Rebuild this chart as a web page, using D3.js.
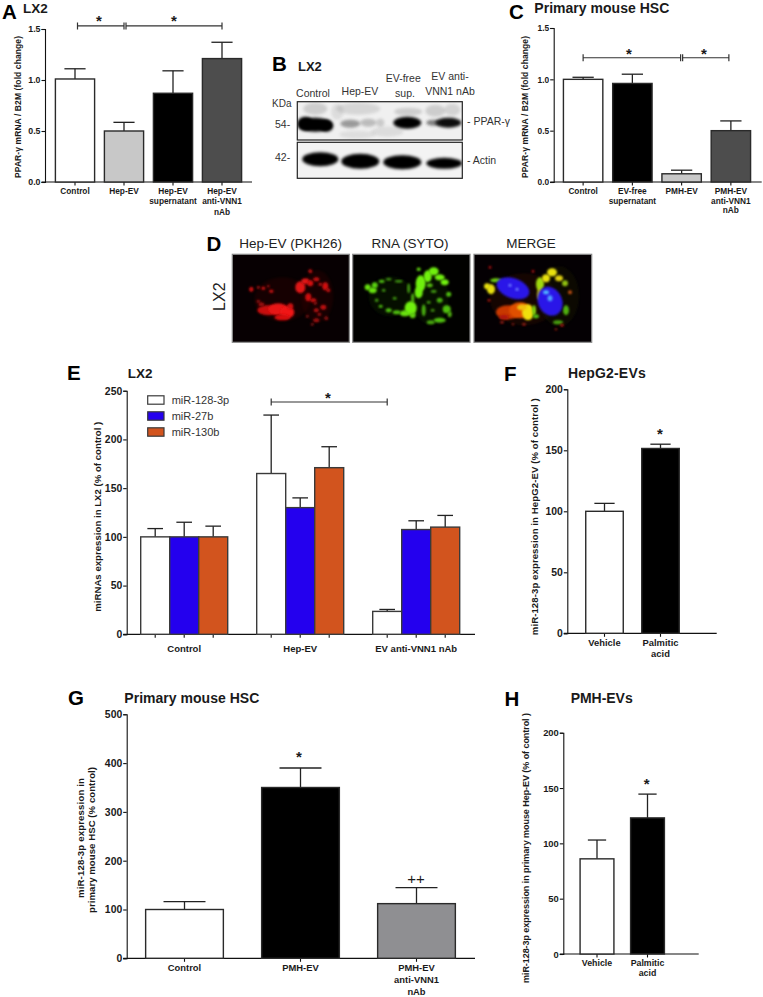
<!DOCTYPE html>
<html>
<head>
<meta charset="utf-8">
<script src="https://cdn.jsdelivr.net/npm/d3@7"></script>
<style>
  body { margin: 0; background: #fff; }
  text { font-family: "Liberation Sans", Arial, sans-serif; fill: #1a1a1a; }
</style>
</head>
<body>
<div id="chart"></div>
<script>
// Panel A
const catsA = ["Control", "Hep-EV", "Hep-EV\nsupernatant", "Hep-EV\nanti-VNN1\nnAb"];
const meanA = [1.01, 0.5, 0.87, 1.21];
const topA = [1.11, 0.585, 1.09, 1.37];
const fillA = ["#fff", "#c8c8c8", "#000", "#4d4d4d"];
// Panel C
const catsC = ["Control", "EV-free\nsupernatant", "PMH-EV", "PMH-EV\nanti-VNN1\nnAb"];
const meanC = [1.0, 0.96, 0.08, 0.5];
const topC = [1.02, 1.05, 0.115, 0.595];
const fillC = ["#fff", "#000", "#c8c8c8", "#4d4d4d"];
const ticksFold = [0, 0.5, 1.0, 1.5];
// Panel E
const catsE = ["Control", "Hep-EV", "EV anti-VNN1 nAb"];
const seriesE = ["miR-128-3p", "miR-27b", "miR-130b"];
const fillE = ["#fff", "#2400ee", "#d2541e"];
const meanE = [[100, 100, 100], [165, 130, 171], [23.5, 107.5, 110]];
const topE = [[108.5, 115, 111], [225, 140, 192.5], [25.5, 116.5, 122]];
const ticksE = [0, 50, 100, 150, 200, 250];
// Panel F
const catsF = ["Vehicle", "Palmitic\nacid"];
const meanF = [100, 151.5];
const topF = [106.5, 155];
// Panel G
const catsG = ["Control", "PMH-EV", "PMH-EV\nanti-VNN1\nnAb"];
const meanG = [100, 350, 112];
const topG = [116, 390, 145];
const fillG = ["#fff", "#000", "#8f8f92"];
const ticksG = [0, 100, 200, 300, 400, 500];
// Panel H
const catsH = ["Vehicle", "Palmitic\nacid"];
const meanH = [86, 123];
const topH = [103, 144.5];
const ticksPct = [0, 50, 100, 150, 200];

// Picture panels, [x, y, rx, ry, colour, opacity, rotation] in local pixels
const blotTop = [
  [8, 22, 8, 7, "#000", 1], [18, 23, 16, 7, "#000", 1], [29, 24, 7, 6, "#000", 1],
  [53, 22, 10, 4, "#333", .45], [71, 21, 8, 4, "#444", .3], [83, 21, 4, 4, "#444", .22],
  [110, 21, 14, 6, "#000", 1], [151, 21, 13, 5, "#000", .95], [136, 21, 7, 3, "#222", .55],
  [18, 7, 12, 6, "#555", .22], [61, 7, 22, 6, "#555", .16], [138, 9, 10, 6, "#555", .22],
  [111, 10, 14, 4, "#555", .22], [90, 30, 16, 5, "#666", .14], [155, 8, 8, 6, "#555", .18],
  [60, 33, 18, 4, "#666", .12], [40, 10, 6, 8, "#666", .14]
];
const blotBottom = [
  [23, 17, 18, 7, "#000", 1], [63, 19, 19, 7.5, "#000", 1],
  [105, 20, 19, 7, "#000", 1], [147, 21, 18, 5.5, "#000", 1]
];
const redSpots = [
  [50, 45, 28, 22, "#300004", .35], [85, 42, 16, 26, "#300004", .35],
  [36, 56, 11, 5, "#c80d0d", 1], [46, 55, 10, 6, "#e81212", 1], [55, 58, 7, 6, "#f01414", 1],
  [50, 63, 8, 3, "#d81010", 1], [58, 52, 3, 3, "#d01010", 1], [29, 50, 3, 2, "#a00c0c", 1],
  [68, 33, 5, 6, "#e01414", 1], [73, 27, 4, 3, "#e01414", 1], [78, 29, 3, 3, "#d81010", 1],
  [76, 43, 3, 4, "#d01010", 1], [81, 46, 3, 2, "#c81010", 1], [93, 32, 3, 4, "#d01010", 1],
  [96, 36, 2, 2, "#c01010", 1], [78, 17, 2, 2, "#c01010", 1], [84, 25, 3, 2, "#c81010", 1],
  [88, 30, 2, 1.5, "#c01010", 1], [19, 35, 2.2, 2.5, "#d01010", 1], [26, 33, 1.5, 1.5, "#a81010", 1],
  [31, 34, 2, 1.7, "#c81010", 1], [36, 32, 1.3, 1.3, "#a81010", 1], [39, 37, 2.2, 1.7, "#c81010", 1],
  [26, 47, 2, 1.5, "#901010", 1], [91, 53, 3, 2.5, "#c01010", 1], [84, 56, 2.5, 2, "#b81010", 1],
  [87, 60, 2, 1.5, "#a01010", 1], [84, 66, 3, 2, "#a01010", 1], [94, 64, 2, 2, "#901010", 1],
  [83, 49, 1.7, 1.7, "#901010", 1], [75, 62, 1.5, 1.5, "#801010", 1], [80, 70, 1.5, 1.5, "#801010", 1]
];
const greenSpots = [
  [38, 42, 22, 20, "#0a2400", .4], [78, 44, 18, 26, "#0a2400", .4],
  [15, 33, 3, 3, "#66e010", 1], [20, 36, 4, 3, "#66e010", 1], [22, 31, 3, 3, "#58d010", 1],
  [29, 27, 3, 1.6, "#50c010", 1], [36, 25, 3, 1.3, "#409810", 1], [46, 27, 4, 1.2, "#409810", 1],
  [56, 34, 1.5, 5, "#409810", 1], [60, 44, 1.6, 5, "#50b010", 1], [58, 54, 6, 7, "#70f010", 1],
  [52, 59, 5, 3, "#68e010", 1], [60, 61, 3, 3, "#60d010", 1], [44, 58, 4, 2, "#50c010", 1],
  [36, 56, 3, 2, "#50c010", 1], [28, 52, 2, 1.5, "#50c010", 1], [68, 29, 5, 8, "#70f010", 1],
  [66, 38, 4, 6, "#70f010", 1], [75, 22, 4, 6, "#70f010", 1], [81, 17, 5, 4, "#70f010", 1],
  [87, 23, 5, 3, "#70f010", 1], [92, 28, 4, 3, "#70f010", 1], [77, 31, 3, 2, "#58c010", 1],
  [96, 40, 2.5, 2.5, "#50c010", 1], [94, 55, 4, 4, "#50c010", 1], [97, 60, 2, 3, "#50b010", 1],
  [87, 66, 6, 2.5, "#50c010", 1], [78, 68, 4, 2, "#48a810", 1], [71, 56, 2, 6, "#48b010", 1],
  [42, 44, 2, 1.5, "#409810", 1], [24, 46, 1.8, 1.8, "#409810", 1], [31, 36, 1.8, 1.5, "#409810", 1],
  [81, 37, 3, 1.6, "#409810", 1], [87, 46, 3, 2.5, "#48b010", 1], [76, 48, 2, 1.5, "#409810", 1],
  [66, 15, 2, 1.7, "#60d810", 1], [80, 56, 2, 1.5, "#409010", 1]
];
const mergeSpots = [
  [50, 45, 34, 26, "#2a0c00", .45], [85, 42, 20, 30, "#141800", .45],
  [34, 58, 12, 7, "#c83800", 1], [46, 56, 11, 8, "#e05000", 1], [30, 63, 5, 2.5, "#b01808", 1],
  [54, 58, 6, 8, "#f0e010", 1], [48, 53, 5, 3, "#f0c010", 1], [60, 56, 2, 5, "#80d010", 1],
  [13, 32, 3, 3, "#e8e010", 1], [17, 35, 4, 5, "#e8e010", 1], [22, 26, 6, 2, "#70d010", 1],
  [66, 30, 4, 7, "#a0d810", 1], [66, 40, 3, 6, "#c8c810", 1], [72, 24, 4, 4, "#e8e010", 1],
  [78, 18, 5, 4, "#e8e010", 1], [85, 24, 4, 3, "#e0d010", 1], [91, 29, 3, 3, "#90c010", 1],
  [62, 62, 3, 2, "#50c010", 1], [92, 56, 3, 5, "#50b010", 1], [84, 68, 5, 2, "#48a010", 1],
  [16, 13, 1.5, 1.5, "#a01010", 1], [59, 17, 1.5, 1.5, "#a01010", 1], [88, 71, 2, 1.5, "#a01010", 1],
  [96, 38, 2, 2, "#c05010", 1], [28, 68, 2, 1.5, "#902010", 1], [50, 70, 2, 1.5, "#902010", 1],
  [15, 46, 1.5, 1.5, "#a01808", 1], [39, 70, 1.3, 1.3, "#801808", 1], [82, 75, 1.3, 1.3, "#801808", 1]
];
const mergeNuclei = [
  [39, 34, 17, 10, "#2a18e8", 1, 20], [76, 47, 12, 15, "#2a18e8", 1, -25],
  [72, 38, 3, 2, "#50b8ff", 1], [76, 44, 2.5, 3, "#50a0ff", 1], [36, 31, 1.5, 1.5, "#7080ff", 1], [43, 35, 1.5, 1.5, "#7080ff", 1]
];

const svg = d3.select("#chart").append("svg").attr("width", 763).attr("height", 997);
const defs = svg.append("defs");
[["soft", 1.8], ["softer", 0.8]].forEach(([id, s]) => {
  defs.append("filter").attr("id", id)
    .attr("x", "-40%").attr("y", "-40%").attr("width", "180%").attr("height", "180%")
    .append("feGaussianBlur").attr("stdDeviation", s);
});

function label(str, x, y, size, opts = {}) {
  const t = svg.append("text")
    .attr("x", x).attr("y", y)
    .attr("font-size", size)
    .attr("font-weight", opts.bold ? "bold" : "normal")
    .attr("text-anchor", opts.anchor || "start")
    .text(str);
  if (opts.len) t.attr("textLength", opts.len).attr("lengthAdjust", "spacing");
  if (opts.rotate) t.attr("transform", `rotate(-90 ${x} ${y})`);
  if (opts.fill) t.style("fill", opts.fill);
  return t;
}

// y axis, x axis line and tick labels shared by every bar panel
function axes(g, y, yTicks, fmt, xLeft, xRight, cfg) {
  const axY = d3.axisLeft(y).tickValues(yTicks).tickFormat(fmt).tickSize(3.5).tickPadding(1);
  const gy = g.append("g").attr("transform", `translate(${xLeft},0)`).call(axY);
  gy.selectAll("text").attr("font-size", cfg.yFont).attr("font-weight", "bold")
    .attr("font-family", "Liberation Sans").attr("fill", "#1a1a1a");
  gy.selectAll("line,path").attr("stroke", "#111").attr("stroke-width", 1.1);
  g.append("line")
    .attr("x1", xLeft - 3.5).attr("x2", xRight)
    .attr("y1", y(0)).attr("y2", y(0))
    .attr("stroke", "#111").attr("stroke-width", 1.2);
}

function tickLabels(g, cats, centers, yBase, size, lineH) {
  cats.forEach((c, i) => {
    c.split("\n").forEach((line, j) => {
      g.append("text")
        .attr("x", centers[i]).attr("y", yBase + j * lineH)
        .attr("text-anchor", "middle").attr("font-size", size).attr("font-weight", "bold")
        .text(line);
    });
  });
}

function simpleBars(cfg) {
  const g = svg.append("g");
  const y = d3.scaleLinear().domain([0, cfg.max]).range([cfg.y0, cfg.y1]);
  const x = d3.scaleBand().domain(cfg.cats).range(cfg.range).paddingInner(cfg.pad).paddingOuter(cfg.pad / 2);
  const bw = x.bandwidth();
  axes(g, y, cfg.ticks, cfg.fmt, cfg.xLeft, cfg.xRight, cfg);

  const axX = d3.axisBottom(x).tickSize(3.5).tickFormat("");
  const gx = g.append("g").attr("transform", `translate(0,${cfg.y0})`).call(axX);
  gx.select(".domain").remove();
  gx.selectAll("line").attr("stroke", "#111").attr("stroke-width", 1.1);

  // error bars first, the bar covers the foot of the stem
  g.selectAll(".stem").data(cfg.cats).enter().append("line")
    .attr("x1", d => x(d) + bw / 2).attr("x2", d => x(d) + bw / 2)
    .attr("y1", (d, i) => y(cfg.mean[i])).attr("y2", (d, i) => y(cfg.top[i]))
    .attr("stroke", "#222").attr("stroke-width", 1.3);
  g.selectAll(".cap").data(cfg.cats).enter().append("line")
    .attr("x1", d => x(d) + bw * 0.23).attr("x2", d => x(d) + bw * 0.77)
    .attr("y1", (d, i) => y(cfg.top[i])).attr("y2", (d, i) => y(cfg.top[i]))
    .attr("stroke", "#222").attr("stroke-width", 1.3);
  g.selectAll(".bar").data(cfg.cats).enter().append("rect")
    .attr("x", d => x(d)).attr("width", bw)
    .attr("y", (d, i) => y(cfg.mean[i]))
    .attr("height", (d, i) => y(0) - y(cfg.mean[i]))
    .attr("fill", (d, i) => cfg.fill[i])
    .attr("stroke", "#2a2a2a").attr("stroke-width", 1.4);

  tickLabels(g, cfg.cats, cfg.cats.map(d => x(d) + bw / 2), cfg.y0 + cfg.labelDy, cfg.xFont, cfg.lineH);
  return { x, y, bw };
}

function bracket(y, xa, xb, value) {
  const py = y(value);
  const p = d3.path();
  p.moveTo(xa, py - 3.5); p.lineTo(xa, py + 3.5);
  p.moveTo(xa, py); p.lineTo(xb, py);
  p.moveTo(xb, py - 3.5); p.lineTo(xb, py + 3.5);
  svg.append("path").attr("d", p.toString()).attr("fill", "none")
    .attr("stroke", "#333").attr("stroke-width", 1.2);
}

function star(x, y) {
  label("*", x, y, 15, { bold: true, anchor: "middle" });
}

// ---- A
const fold = d3.format(".1f");
const A = simpleBars({
  cats: catsA, mean: meanA, top: topA, fill: fillA, max: 1.5, ticks: ticksFold, fmt: fold,
  y0: 182, y1: 29, range: [50.5, 246.5], pad: 0.2, xLeft: 45, xRight: 252,
  yFont: 8.8, xFont: 8.3, labelDy: 12, lineH: 10.3
});
const cA = c => A.x(c) + A.bw / 2;
bracket(A.y, cA(catsA[0]) + 2.5, cA(catsA[1]), 1.53);
bracket(A.y, cA(catsA[1]) + 2, cA(catsA[3]), 1.53);
star(99, 26); star(174, 26);

// ---- C
const C = simpleBars({
  cats: catsC, mean: meanC, top: topC, fill: fillC, max: 1.5, ticks: ticksFold, fmt: fold,
  y0: 182, y1: 28, range: [558.5, 755.5], pad: 0.2, xLeft: 553.7, xRight: 761.7,
  yFont: 8.4, xFont: 8.3, labelDy: 12, lineH: 9.6
});
const cC = c => C.x(c) + C.bw / 2;
bracket(C.y, cC(catsC[0]), cC(catsC[2]) - 1, 1.21);
bracket(C.y, cC(catsC[2]) + 1, cC(catsC[3]) - 2, 1.21);
star(629, 59); star(704, 59);

// ---- E, grouped bars
const yE = d3.scaleLinear().domain([0, 250]).range([634.3, 390.7]);
const x0E = d3.scaleBand().domain(catsE).range([126.2, 474.2]).paddingInner(0.25).paddingOuter(0.125);
const x1E = d3.scaleBand().domain(seriesE).range([0, x0E.bandwidth()]);
const gE = svg.append("g");
axes(gE, yE, ticksE, d3.format("d"), 126.7, 475, { yFont: 10.4 });
catsE.forEach((cat, ci) => {
  const gc = gE.append("g").attr("transform", `translate(${x0E(cat)},0)`);
  const bw = x1E.bandwidth();
  const axX = d3.axisBottom(x1E).tickSize(3.5).tickFormat("");
  const gx = gc.append("g").attr("transform", `translate(0,${yE(0)})`).call(axX);
  gx.select(".domain").remove();
  gx.selectAll("line").attr("stroke", "#111").attr("stroke-width", 1.1);
  gc.selectAll(".stem").data(seriesE).enter().append("line")
    .attr("x1", d => x1E(d) + bw / 2).attr("x2", d => x1E(d) + bw / 2)
    .attr("y1", (d, i) => yE(meanE[ci][i])).attr("y2", (d, i) => yE(topE[ci][i]))
    .attr("stroke", "#222").attr("stroke-width", 1.3);
  gc.selectAll(".cap").data(seriesE).enter().append("line")
    .attr("x1", d => x1E(d) + bw * 0.23).attr("x2", d => x1E(d) + bw * 0.77)
    .attr("y1", (d, i) => yE(topE[ci][i])).attr("y2", (d, i) => yE(topE[ci][i]))
    .attr("stroke", "#222").attr("stroke-width", 1.3);
  gc.selectAll(".bar").data(seriesE).enter().append("rect")
    .attr("x", d => x1E(d)).attr("width", bw)
    .attr("y", (d, i) => yE(meanE[ci][i]))
    .attr("height", (d, i) => yE(0) - yE(meanE[ci][i]))
    .attr("fill", (d, i) => fillE[i])
    .attr("stroke", "#3a3a3a").attr("stroke-width", 1.4);
});
tickLabels(gE, catsE, catsE.map(c => x0E(c) + x0E.bandwidth() / 2), 652, 9.5, 11);
const bE = (ci, si) => x0E(catsE[ci]) + x1E(seriesE[si]) + x1E.bandwidth() / 2;
bracket(yE, bE(1, 0), bE(2, 0), 238.4);
star(328, 403);

// legend
const legendY = d3.scalePoint().domain(seriesE).range([400, 432]);
seriesE.forEach((s, i) => {
  svg.append("rect").attr("x", 147.7).attr("y", legendY(s) - 4.2).attr("width", 16.3).attr("height", 8.4)
    .attr("fill", fillE[i]).attr("stroke", "#3a3a3a").attr("stroke-width", 1.2);
  label(s, 171.7, legendY(s) + 4, 11, { fill: "#333" });
});

// ---- F
const pct = d3.format("d");
simpleBars({
  cats: catsF, mean: meanF, top: topF, fill: ["#fff", "#000"], max: 200, ticks: ticksPct, fmt: pct,
  y0: 633.3, y1: 389.3, range: [576.5, 688.5], pad: 0.33, xLeft: 567.3, xRight: 716.7,
  yFont: 10.4, xFont: 9.4, labelDy: 13, lineH: 10.7
});
star(660, 439);

// ---- G
simpleBars({
  cats: catsG, mean: meanG, top: topG, fill: fillG, max: 500, ticks: ticksG, fmt: pct,
  y0: 958.3, y1: 714.3, range: [126.5, 474.5], pad: 0.33, xLeft: 126.7, xRight: 475,
  yFont: 10.4, xFont: 9.4, labelDy: 13, lineH: 12
});
star(299, 762);
label("++", 416, 884, 15, { anchor: "middle" });

// ---- H
simpleBars({
  cats: catsH, mean: meanH, top: topH, fill: ["#fff", "#000"], max: 200, ticks: ticksPct, fmt: pct,
  y0: 954, y1: 732.7, range: [571.75, 672.75], pad: 0.33, xLeft: 563.3, xRight: 698.7,
  yFont: 9.4, xFont: 8.8, labelDy: 11.7, lineH: 10
});
star(646.7, 789);

// ---- axis titles
label("PPAR-γ mRNA / B2M (fold change)", 21, 107, 8.5, { bold: true, anchor: "middle", rotate: true, len: 142 });
label("PPAR-γ mRNA / B2M (fold change)", 528, 107, 8.5, { bold: true, anchor: "middle", rotate: true, len: 142 });
label("miRNAs expression in LX2 (% of control )", 101.5, 516.7, 9.6, { bold: true, anchor: "middle", rotate: true, len: 190 });
label("miR-128-3p expression in HepG2-EV (% of control )", 538.5, 516.7, 9.6, { bold: true, anchor: "middle", rotate: true, len: 237 });
label("miR-128-3p expression in", 83.5, 838, 9.6, { bold: true, anchor: "middle", rotate: true, len: 120 });
label("primary mouse HSC (% control)", 95, 840, 9.6, { bold: true, anchor: "middle", rotate: true, len: 146 });
label("miR-128-3p expression in primary mouse Hep-EV (% of control )", 529, 848, 9, { bold: true, anchor: "middle", rotate: true, len: 270 });

// ---- panel letters and titles
[["A", 2, 19], ["B", 272, 71], ["C", 509, 19], ["D", 206.5, 251], ["E", 67, 380], ["F", 504, 381], ["G", 68, 705], ["H", 504.5, 706]]
  .forEach(([s, x, y]) => label(s, x, y, 20.5, { bold: true, fill: "#000" }));
label("LX2", 23, 13, 13.5, { bold: true });
label("LX2", 298, 71, 13, { bold: true });
label("Primary mouse HSC", 534.3, 13, 14, { bold: true, len: 135 });
label("LX2", 127.7, 377.7, 13.5, { bold: true });
label("HepG2-EVs", 568, 377.7, 14, { bold: true, len: 77.7 });
label("Primary mouse HSC", 124.3, 702.7, 14, { bold: true, len: 135 });
label("PMH-EVs", 570.7, 702.7, 14, { bold: true, len: 62 });

// ---- B, western blot
function spots(parent, list, filter) {
  parent.selectAll(".spot").data(list).enter().append("ellipse")
    .attr("cx", d => d[0]).attr("cy", d => d[1])
    .attr("rx", d => d[2]).attr("ry", d => d[3])
    .attr("fill", d => d[4]).attr("opacity", d => d[5])
    .attr("transform", d => d[6] ? `rotate(${d[6]} ${d[0]} ${d[1]})` : null)
    .attr("filter", `url(#${filter})`);
}
function picture(id, x, y, w, h, bg, border, list, filter, extra) {
  defs.append("clipPath").attr("id", id).append("rect").attr("width", w).attr("height", h);
  const g = svg.append("g").attr("transform", `translate(${x},${y})`);
  const inner = g.append("g").attr("clip-path", `url(#${id})`);
  inner.append("rect").attr("width", w).attr("height", h).attr("fill", bg);
  spots(inner, list, filter);
  if (extra) {
    const over = inner.append("g");
    spots(over, extra, "softer");
  }
  g.append("rect").attr("width", w).attr("height", h).attr("fill", "none")
    .attr("stroke", border).attr("stroke-width", 1.2);
}
picture("b1", 297.3, 101.7, 165, 38.3, "#f0f0f0", "#222", blotTop, "soft");
picture("b2", 297.3, 142.3, 165, 36, "#f3f3f3", "#222", blotBottom, "soft");

label("Control", 313, 96.7, 10.5, { anchor: "middle", fill: "#333" });
label("Hep-EV", 360, 95, 10.5, { anchor: "middle", fill: "#333" });
label("EV-free", 403.3, 81.7, 10.5, { anchor: "middle", fill: "#333" });
label("sup.", 405, 96.7, 10.5, { anchor: "middle", fill: "#333" });
label("EV anti-", 450, 80, 10.5, { anchor: "middle", fill: "#333" });
label("VNN1 nAb", 450, 95, 10.5, { anchor: "middle", fill: "#333" });
label("KDa", 272, 106.7, 10, { fill: "#333" });
label("54-", 275, 128, 10.5, { fill: "#333" });
label("42-", 275, 160.7, 10.5, { fill: "#333" });
label("- PPAR-γ", 467, 125, 10.5, { fill: "#333" });
label("- Actin", 467, 164, 10.5, { fill: "#333" });

// ---- D, confocal pictures
picture("d1", 232.3, 254.3, 117, 88, "#070002", "#888", redSpots, "softer");
picture("d2", 352.7, 254.3, 117.3, 88, "#010100", "#888", greenSpots, "softer");
picture("d3", 474, 254.3, 117.7, 88, "#040003", "#888", mergeSpots, "softer", mergeNuclei);

label("Hep-EV (PKH26)", 290.7, 248, 13.5, { anchor: "middle", fill: "#222" });
label("RNA (SYTO)", 410, 248, 13.5, { anchor: "middle", fill: "#222" });
label("MERGE", 531, 248, 13.5, { anchor: "middle", fill: "#222" });
label("LX2", 225, 296.7, 16, { anchor: "middle", rotate: true, fill: "#222" });
</script>
</body>
</html>
